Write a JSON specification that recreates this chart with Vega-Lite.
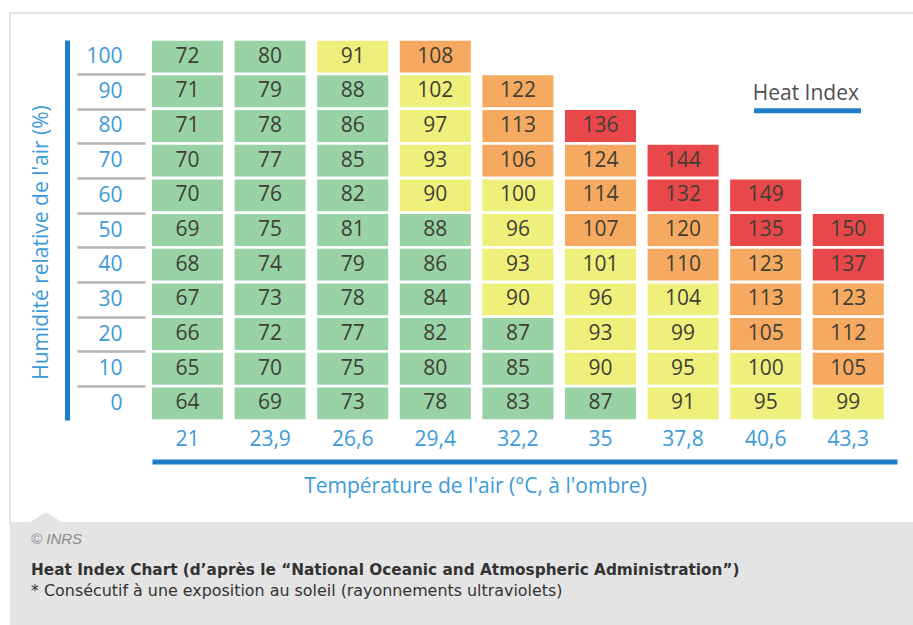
{
  "$schema": "https://vega.github.io/schema/vega-lite/v6.json",
  "background": "white",
  "padding": {"left": 9, "top": 12, "right": 0, "bottom": 0},
  "spacing": 0,
  "bounds": "flush",
  "config": {"font": "Open Sans"},
  "vconcat": [
    {
      "width": 904,
      "height": 510,
      "view": {"fill": "white", "stroke": "#e3e3e3", "strokeWidth": 2},
      "data": {"values": [
        {"T":"21","H":100,"v":72},{"T":"21","H":90,"v":71},{"T":"21","H":80,"v":71},{"T":"21","H":70,"v":70},{"T":"21","H":60,"v":70},{"T":"21","H":50,"v":69},{"T":"21","H":40,"v":68},{"T":"21","H":30,"v":67},{"T":"21","H":20,"v":66},{"T":"21","H":10,"v":65},{"T":"21","H":0,"v":64},
        {"T":"23,9","H":100,"v":80},{"T":"23,9","H":90,"v":79},{"T":"23,9","H":80,"v":78},{"T":"23,9","H":70,"v":77},{"T":"23,9","H":60,"v":76},{"T":"23,9","H":50,"v":75},{"T":"23,9","H":40,"v":74},{"T":"23,9","H":30,"v":73},{"T":"23,9","H":20,"v":72},{"T":"23,9","H":10,"v":70},{"T":"23,9","H":0,"v":69},
        {"T":"26,6","H":100,"v":91},{"T":"26,6","H":90,"v":88},{"T":"26,6","H":80,"v":86},{"T":"26,6","H":70,"v":85},{"T":"26,6","H":60,"v":82},{"T":"26,6","H":50,"v":81},{"T":"26,6","H":40,"v":79},{"T":"26,6","H":30,"v":78},{"T":"26,6","H":20,"v":77},{"T":"26,6","H":10,"v":75},{"T":"26,6","H":0,"v":73},
        {"T":"29,4","H":100,"v":108},{"T":"29,4","H":90,"v":102},{"T":"29,4","H":80,"v":97},{"T":"29,4","H":70,"v":93},{"T":"29,4","H":60,"v":90},{"T":"29,4","H":50,"v":88},{"T":"29,4","H":40,"v":86},{"T":"29,4","H":30,"v":84},{"T":"29,4","H":20,"v":82},{"T":"29,4","H":10,"v":80},{"T":"29,4","H":0,"v":78},
        {"T":"32,2","H":90,"v":122},{"T":"32,2","H":80,"v":113},{"T":"32,2","H":70,"v":106},{"T":"32,2","H":60,"v":100},{"T":"32,2","H":50,"v":96},{"T":"32,2","H":40,"v":93},{"T":"32,2","H":30,"v":90},{"T":"32,2","H":20,"v":87},{"T":"32,2","H":10,"v":85},{"T":"32,2","H":0,"v":83},
        {"T":"35","H":80,"v":136},{"T":"35","H":70,"v":124},{"T":"35","H":60,"v":114},{"T":"35","H":50,"v":107},{"T":"35","H":40,"v":101},{"T":"35","H":30,"v":96},{"T":"35","H":20,"v":93},{"T":"35","H":10,"v":90},{"T":"35","H":0,"v":87},
        {"T":"37,8","H":70,"v":144},{"T":"37,8","H":60,"v":132},{"T":"37,8","H":50,"v":120},{"T":"37,8","H":40,"v":110},{"T":"37,8","H":30,"v":104},{"T":"37,8","H":20,"v":99},{"T":"37,8","H":10,"v":95},{"T":"37,8","H":0,"v":91},
        {"T":"40,6","H":60,"v":149},{"T":"40,6","H":50,"v":135},{"T":"40,6","H":40,"v":123},{"T":"40,6","H":30,"v":113},{"T":"40,6","H":20,"v":105},{"T":"40,6","H":10,"v":100},{"T":"40,6","H":0,"v":95},
        {"T":"43,3","H":50,"v":150},{"T":"43,3","H":40,"v":137},{"T":"43,3","H":30,"v":123},{"T":"43,3","H":20,"v":112},{"T":"43,3","H":10,"v":105},{"T":"43,3","H":0,"v":99}
      ]},
      "resolve": {"axis": {"y": "independent"}},
      "layer": [
        {
          "mark": {"type": "rect"},
          "encoding": {
            "x": {
              "field": "T", "type": "ordinal",
              "scale": {"domain": ["21","23,9","26,6","29,4","32,2","35","37,8","40,6","43,3"], "range": [142, 887], "paddingInner": 0.14, "paddingOuter": 0.08, "align": 0},
              "axis": {
                "orient": "bottom", "offset": -61.5, "ticks": false, "grid": false,
                "domain": true, "domainColor": "#1f7ecb", "domainWidth": 5, "domainCap": "butt",
                "labelAngle": 0, "labelFont": "Open Sans", "labelFontSize": 21, "labelColor": "#3c9ad8",
                "labelBaseline": "middle", "labelPadding": -22.5, "labelOverlap": false,
                "title": "Température de l'air (°C, à l'ombre)",
                "titleFont": "Open Sans", "titleFontSize": 21, "titleFontWeight": "normal", "titleColor": "#3c9ad8",
                "titleX": 465, "titleY": 24.5, "titleAlign": "center", "titleBaseline": "middle"
              }
            },
            "y": {
              "field": "H", "type": "ordinal",
              "scale": {"domain": [100,90,80,70,60,50,40,30,20,10,0], "range": [27, 407], "paddingInner": 0.08, "paddingOuter": 0.02},
              "axis": {
                "orient": "left", "offset": -57, "labels": false, "ticks": false, "grid": false,
                "domain": true, "domainColor": "#1f7ecb", "domainWidth": 5, "domainCap": "butt",
                "title": "Humidité relative de l'air (%)",
                "titleFont": "Open Sans", "titleFontSize": 21, "titleFontWeight": "normal", "titleColor": "#3c9ad8",
                "titleX": -26, "titleY": 229, "titleAngle": -90, "titleAlign": "center", "titleBaseline": "middle"
              }
            },
            "fill": {
              "field": "v", "type": "quantitative",
              "scale": {"type": "threshold", "domain": [90, 105, 130], "range": ["#98d2a5", "#eff07c", "#f6a960", "#e9484b"]},
              "legend": null
            }
          }
        },
        {
          "mark": {"type": "text", "font": "Open Sans", "fontSize": 21, "color": "#3f3f35", "baseline": "middle", "align": "center"},
          "encoding": {
            "x": {"field": "T", "type": "ordinal"},
            "y": {
              "field": "H", "type": "ordinal",
              "axis": {
                "orient": "left", "offset": -135, "domain": false, "grid": false,
                "ticks": true, "tickSize": 68, "tickWidth": 2.5, "tickCap": "butt",
                "tickColor": {"condition": {"test": "datum.value === 100", "value": "transparent"}, "value": "#b3b3b3"},
                "tickOffset": -17.34, "labelOffset": 17.34,
                "labelFont": "Open Sans", "labelFontSize": 21, "labelColor": "#3c9ad8",
                "labelAlign": "right", "labelBaseline": "middle", "labelPadding": -45, "labelOverlap": false,
                "title": null
              }
            },
            "text": {"field": "v", "type": "quantitative"}
          }
        },
        {
          "data": {"values": [{"T": "43,3", "H": 90, "label": "Heat Index"}]},
          "mark": {"type": "text", "font": "Open Sans", "fontSize": 21, "color": "#505050", "align": "right", "baseline": "alphabetic"},
          "encoding": {
            "x": {"field": "T", "type": "ordinal", "bandPosition": 0.651},
            "y": {"field": "H", "type": "ordinal", "bandPosition": 0.77, "axis": null},
            "text": {"field": "label"}
          }
        },
        {
          "data": {"values": [{"T": "40,6", "to": "43,3", "H": 80}]},
          "mark": {"type": "rule", "color": "#1f7ecb", "strokeWidth": 5, "strokeCap": "butt"},
          "encoding": {
            "x": {"field": "T", "type": "ordinal", "bandPosition": 0.336},
            "x2": {"field": "to", "bandPosition": 0.679},
            "y": {"field": "H", "type": "ordinal", "bandPosition": 0.02, "axis": null}
          }
        }
      ]
    },
    {
      "width": 904,
      "height": 103,
      "view": {"fill": "#e4e4e4", "stroke": null},
      "layer": [
        {
          "data": {"values": [{"line": "notch", "col": "notch"}]},
          "mark": {"type": "point", "shape": "M-1,0L0,-0.65L1,0Z", "size": 1156, "filled": true, "color": "#e4e4e4", "opacity": 1, "strokeWidth": 0},
          "encoding": {
            "x": {"field": "col", "type": "nominal", "scale": {"type": "point", "domain": ["left", "notch"], "range": [21, 36], "padding": 0}, "axis": null},
            "y": {"field": "line", "type": "nominal", "scale": {"type": "point", "domain": ["notch", "g1", "g2", "credit", "g4", "g5", "g6", "g7", "g8", "title", "g10", "g11", "g12", "note"], "range": [0, 67.6], "padding": 0}, "axis": null}
          }
        },
        {
          "data": {"values": [{"line": "credit", "col": "left", "text": "© INRS"}]},
          "mark": {"type": "text", "font": "Liberation Sans", "fontSize": 15, "fontStyle": "italic", "color": "#8a8a8a", "align": "left", "baseline": "middle"},
          "encoding": {
            "x": {"field": "col", "type": "nominal", "axis": null},
            "y": {"field": "line", "type": "nominal", "axis": null},
            "text": {"field": "text"}
          }
        },
        {
          "data": {"values": [{"line": "title", "col": "left", "text": "Heat Index Chart (d’après le “National Oceanic and Atmospheric Administration”)"}]},
          "mark": {"type": "text", "font": "DejaVu Sans", "fontSize": 15.3, "fontWeight": "bold", "color": "#333333", "align": "left", "baseline": "middle"},
          "encoding": {
            "x": {"field": "col", "type": "nominal", "axis": null},
            "y": {"field": "line", "type": "nominal", "axis": null},
            "text": {"field": "text"}
          }
        },
        {
          "data": {"values": [{"line": "note", "col": "left", "text": "* Consécutif à une exposition au soleil (rayonnements ultraviolets)"}]},
          "mark": {"type": "text", "font": "DejaVu Sans", "fontSize": 15.9, "color": "#333333", "align": "left", "baseline": "middle"},
          "encoding": {
            "x": {"field": "col", "type": "nominal", "axis": null},
            "y": {"field": "line", "type": "nominal", "axis": null},
            "text": {"field": "text"}
          }
        }
      ]
    }
  ]
}
